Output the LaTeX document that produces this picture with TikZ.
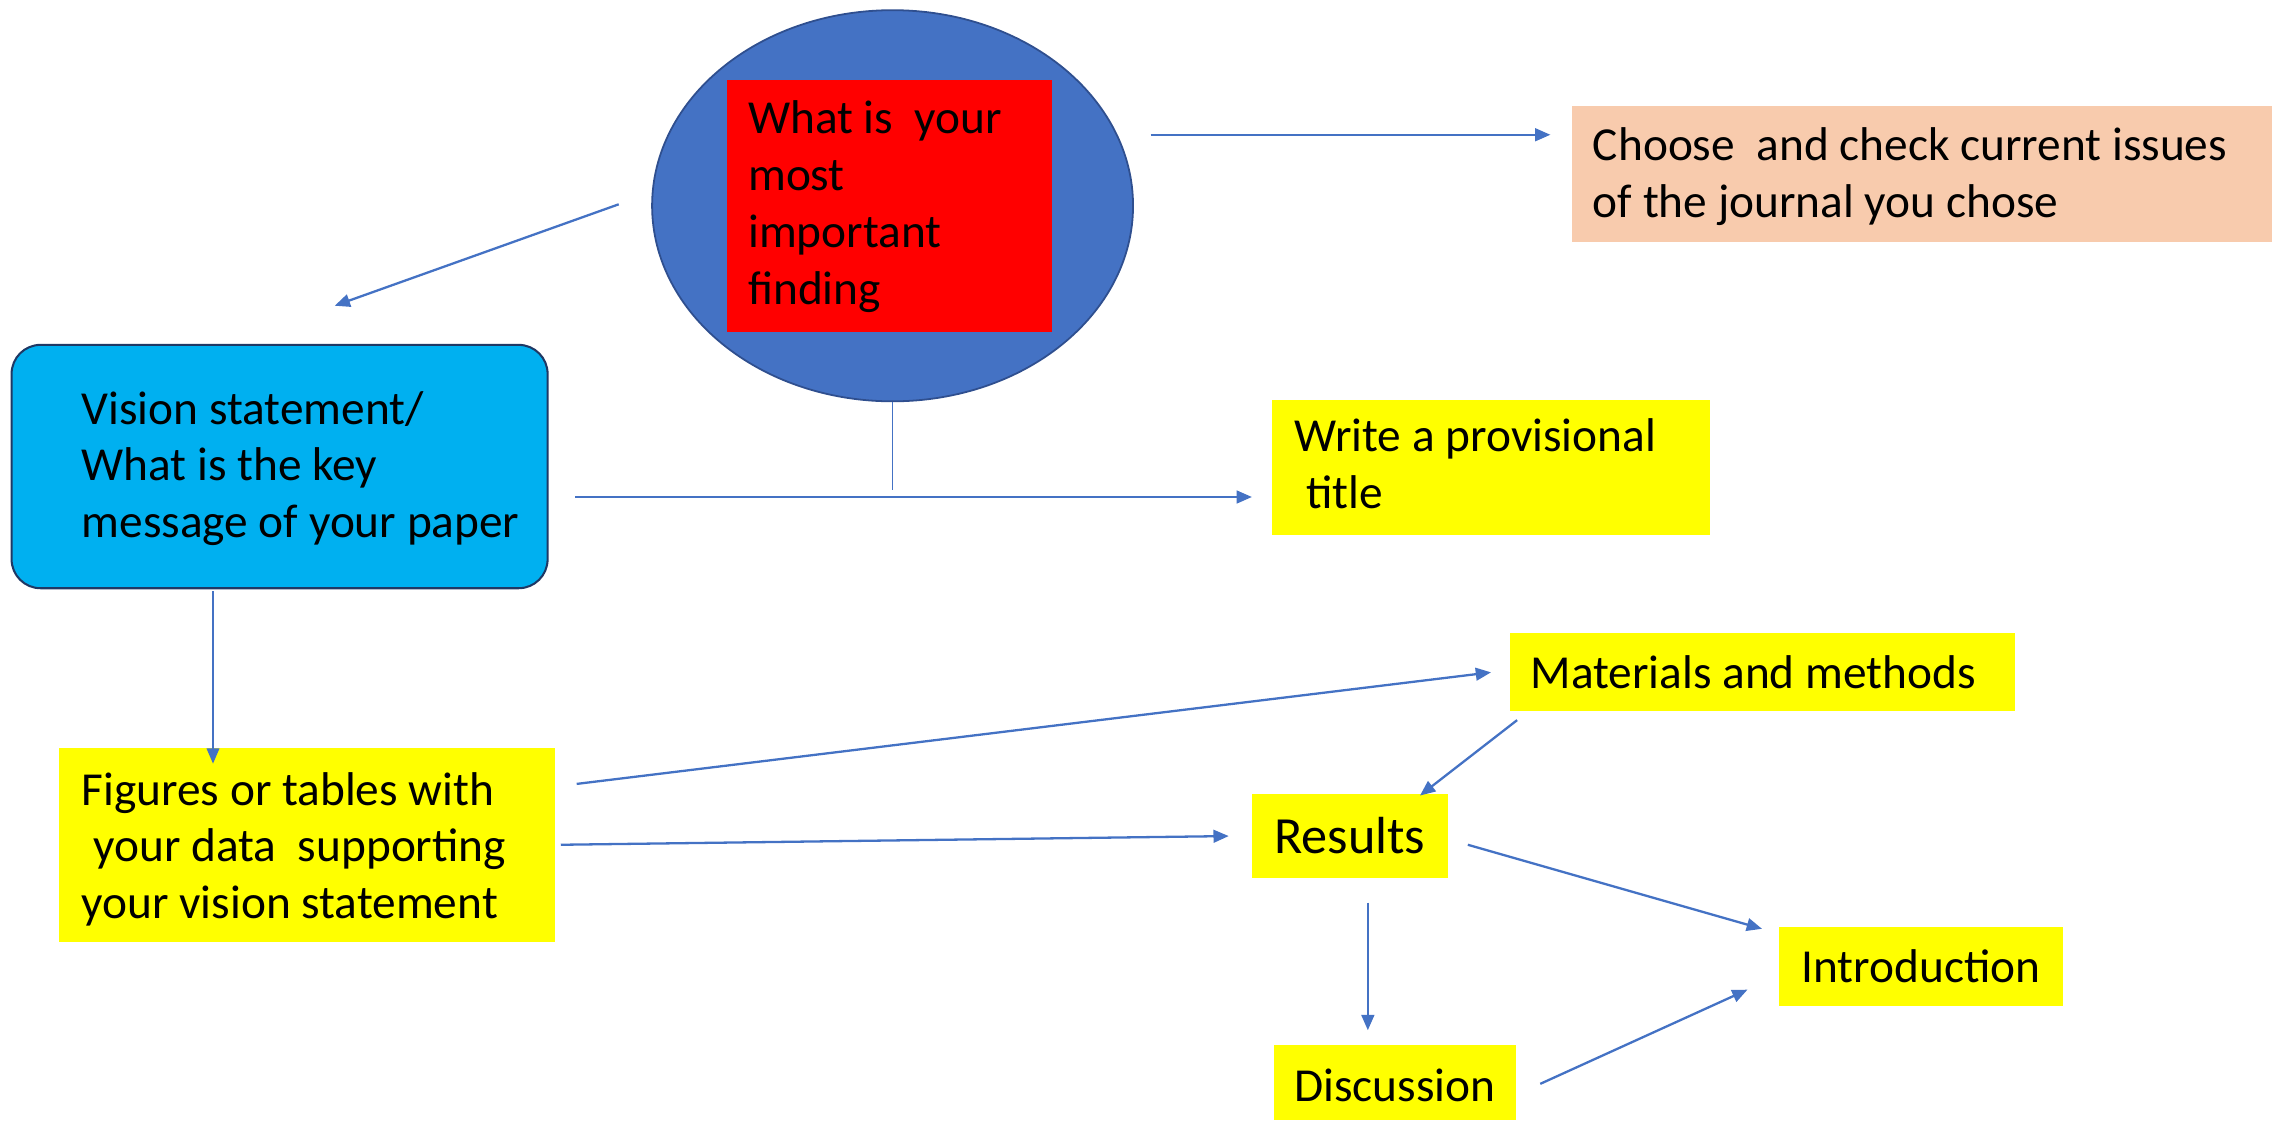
\documentclass[tikz,border=0pt]{standalone}
\usepackage{fontspec}
\setmainfont{Carlito}
\usetikzlibrary{arrows.meta,shapes.geometric}
\definecolor{ellblue}{HTML}{4472C4}
\definecolor{elledge}{HTML}{2F4F8F}
\definecolor{cyanbox}{HTML}{00B0F0}
\definecolor{cyanedge}{HTML}{1F3864}
\definecolor{peach}{HTML}{F8CBAD}
\definecolor{arrblue}{HTML}{4472C4}
\definecolor{hiyellow}{HTML}{FFFF00}
\begin{document}
\begin{tikzpicture}[x=0.02cm,y=-0.02cm,
  box/.style={rectangle, inner sep=0pt, outer sep=0pt, anchor=north west},
  txt/.style={anchor=base west, inner sep=0pt, align=left, font=\fontsize{18.6}{22.3}\selectfont},
  arr/.style={draw=arrblue, line width=0.9pt, -{Triangle[length=6pt,width=5pt]}},
  thinarr/.style={draw=arrblue, line width=0.5pt, -{Triangle[length=6pt,width=5pt]}},
  thinline/.style={draw=arrblue, line width=0.5pt}]
\useasboundingbox (0,0) rectangle (1568,774);

% top ellipse with red box
\node[ellipse, fill=ellblue, draw=elledge, line width=0.7pt, minimum width=6.64cm, minimum height=5.4cm, inner sep=0pt] (ell) at (616,142) {};
\node[box, fill=red, minimum width=4.48cm, minimum height=3.48cm] (find) at (502,55) {};
\node[txt] (findt) at (516,210) {What is\ \ your\\most\\important\\finding};

% journal box
\node[box, fill=peach, minimum width=9.66cm, minimum height=1.88cm] (choose) at (1085,73) {};
\node[txt] (chooset) at (1099,150) {Choose\ \ and check current issues\\of the journal you chose};

% vision box
\node[box, fill=cyanbox, draw=cyanedge, line width=0.8pt, rounded corners=0.4cm, minimum width=7.4cm, minimum height=3.36cm] (vision) at (8,238) {};
\node[txt] (visiont) at (56,371) {Vision statement/\\What is the key\\message of your paper};

% title box
\node[box, fill=hiyellow, minimum width=6.04cm, minimum height=1.86cm] (title) at (878,276) {};
\node[txt] (titlet) at (893,351) {Write a provisional\\\hspace*{0.25em}title};

% figures box
\node[box, fill=hiyellow, minimum width=6.84cm, minimum height=2.68cm] (figs) at (41,516) {};
\node[txt] (figst) at (56,634) {Figures or tables with\\\hspace*{0.25em}your data\ \ supporting\\your vision statement};

% materials
\node[box, fill=hiyellow, minimum width=6.98cm, minimum height=1.08cm] (mat) at (1042,437) {};
\node[txt] (matt) at (1056,475) {Materials and methods};

% results
\node[box, fill=hiyellow, minimum width=2.7cm, minimum height=1.16cm] (res) at (864,548) {};
\node[txt, font=\fontsize{20.5}{24}\selectfont] (rest) at (879,589) {Results};

% introduction
\node[box, fill=hiyellow, minimum width=3.92cm, minimum height=1.08cm] (intro) at (1228,640) {};
\node[txt] (introt) at (1243,678) {Introduction};

% discussion
\node[box, fill=hiyellow, minimum width=3.34cm, minimum height=1.04cm] (disc) at (879,721) {};
\node[txt] (disct) at (893,760) {Discussion};

% connector end points
\coordinate (c1s) at (794,93);   \coordinate (c1e) at (1070,93);
\coordinate (c2s) at (427,141);  \coordinate (c2e) at (231,211);
\coordinate (c3e) at (616,338);
\coordinate (c4s) at (397,343);  \coordinate (c4e) at (864,343);
\coordinate (c5s) at (147,408);  \coordinate (c5e) at (147,527);
\coordinate (c6s) at (398,541);  \coordinate (c6e) at (1029,464);
\coordinate (c7s) at (1047,497); \coordinate (c7e) at (980,549);
\coordinate (c8s) at (387,583);  \coordinate (c8e) at (848,577);
\coordinate (c9s) at (1013,583); \coordinate (c9e) at (1216,641);
\coordinate (c10s) at (944,623); \coordinate (c10e) at (944,711);
\coordinate (c11s) at (1063,748);\coordinate (c11e) at (1206,683);

\draw[arr] (c1s) -- (c1e);
\draw[arr] (c2s) -- (c2e);
\draw[thinline] (ell.south) -- (c3e);
\draw[arr] (c4s) -- (c4e);
\draw[thinarr] (c5s) -- (c5e);
\draw[arr] (c6s) -- (c6e);
\draw[arr] (c7s) -- (c7e);
\draw[arr] (c8s) -- (c8e);
\draw[arr] (c9s) -- (c9e);
\draw[arr] (c10s) -- (c10e);
\draw[arr] (c11s) -- (c11e);
\end{tikzpicture}
\end{document}
